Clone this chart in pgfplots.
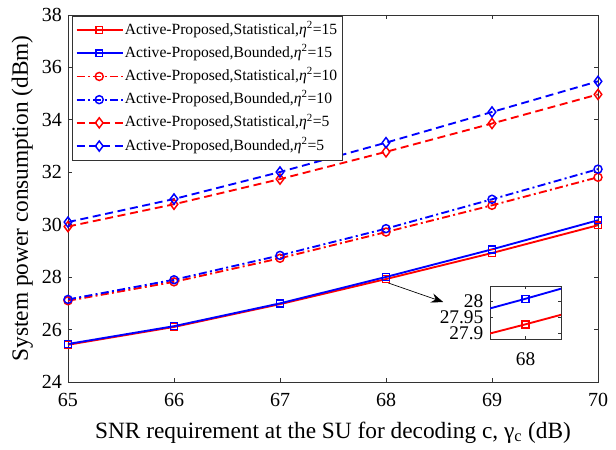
\documentclass[border=0pt]{standalone}
\usepackage{fontspec}
\setmainfont{Liberation Serif}
\usepackage{pgfplots}
\pgfplotsset{compat=1.18}
\usetikzlibrary{arrows.meta}
\definecolor{axgray}{gray}{0.2}
\begin{document}
\begin{tikzpicture}
\pgfplotsset{
  myaxis/.style={
    scale only axis, tick align=inside,
    axis line style={axgray, line width=0.6pt},
    every tick/.style={axgray, line width=0.6pt},
    major tick length=3pt,
    /pgf/number format/assume math mode=true,
  },
  s15/.style={red, line width=1.4pt, mark=square, mark size=2.6pt, mark options={solid, line width=1.1pt}},
  b15/.style={blue, line width=1.4pt, mark=square, mark size=2.6pt, mark options={solid, line width=1.1pt}},
  s10/.style={red, line width=1.4pt, dash pattern=on 6pt off 2.5pt on 1.5pt off 2.5pt, mark=o, mark size=3pt, mark options={solid, line width=1.1pt}},
  b10/.style={blue, line width=1.4pt, dash pattern=on 6pt off 2.5pt on 1.5pt off 2.5pt, mark=o, mark size=3pt, mark options={solid, line width=1.1pt}},
  s5/.style={red, line width=1.4pt, dash pattern=on 6pt off 3.5pt, mark=diamond, mark size=3.8pt, mark options={solid, line width=1.1pt}},
  b5/.style={blue, line width=1.4pt, dash pattern=on 6pt off 3.5pt, mark=diamond, mark size=3.8pt, mark options={solid, line width=1.1pt}},
}
\begin{axis}[name=main, myaxis,
  at={(0,0)}, anchor=south west,
  width=397.5pt, height=275.25pt,
  xmin=65, xmax=70, ymin=24, ymax=38,
  xtick={65,66,67,68,69,70}, ytick={24,26,28,30,32,34,36,38},
  ticklabel style={font=\fontsize{15}{18}\selectfont},
  xticklabel style={yshift=-5pt},
  yticklabel style={xshift=-1pt},
  clip=false,
  xlabel={SNR requirement at the SU for decoding c, γ\textsubscript{c} (dB)},
  ylabel={System power consumption (dBm)},
  label style={font=\fontsize{17.5}{21}\selectfont},
  xlabel style={at={(axis description cs:0.5,0)}, anchor=base, yshift=-42pt},
  ylabel style={at={(axis description cs:0,0.5)}, anchor=base, yshift=30pt},
  legend style={at={(rel axis cs:0.0075,0.998)}, anchor=north west,
    font=\fontsize{11.7}{13}\selectfont, draw=axgray, line width=0.5pt,
    fill=white, inner xsep=2.5pt, inner ysep=3.5pt, row sep=3.4pt,
    nodes={inner sep=1pt, text height=9pt, text depth=3pt}},
  legend cell align=left,
  legend image code/.code={\draw[mark repeat=2,mark phase=2] plot coordinates {(0pt,0pt) (17pt,0pt) (34.5pt,0pt)};},
]
\addplot[s15] coordinates {(65,25.42) (66,26.10) (67,26.97) (68,27.927) (69,28.92) (70,29.98)};
\addlegendentry{Active-Proposed,Statistical,{\itshape η}\textsuperscript{2}=15}
\addplot[b15] coordinates {(65,25.45) (66,26.13) (67,27.00) (68,28.007) (69,29.06) (70,30.17)};
\addlegendentry{Active-Proposed,Bounded,{\itshape η}\textsuperscript{2}=15}
\addplot[s10] coordinates {(65,27.10) (66,27.82) (67,28.72) (68,29.72) (69,30.74) (70,31.81)};
\addlegendentry{Active-Proposed,Statistical,{\itshape η}\textsuperscript{2}=10}
\addplot[b10] coordinates {(65,27.15) (66,27.90) (67,28.83) (68,29.85) (69,30.97) (70,32.12)};
\addlegendentry{Active-Proposed,Bounded,{\itshape η}\textsuperscript{2}=10}
\addplot[s5] coordinates {(65,29.93) (66,30.78) (67,31.74) (68,32.78) (69,33.86) (70,34.97)};
\addlegendentry{Active-Proposed,Statistical,{\itshape η}\textsuperscript{2}=5}
\addplot[b5] coordinates {(65,30.10) (66,30.98) (67,32.01) (68,33.13) (69,34.30) (70,35.47)};
\addlegendentry{Active-Proposed,Bounded,{\itshape η}\textsuperscript{2}=5}
\draw[black, line width=0.5pt, -{Stealth[length=9pt,width=7pt,inset=3pt]}] (axis cs:68.02,27.78) -- (axis cs:68.54,27.05);
\end{axis}
\begin{axis}[myaxis,
  at={(316.5pt,32.25pt)}, anchor=south west,
  width=53.25pt, height=39.75pt,
  xmin=67.97, xmax=68.03, ymin=27.881, ymax=28.047,
  xtick={68}, xticklabels={68},
  ytick={27.9,27.95,28}, yticklabels={27.9,27.95,28},
  ticklabel style={font=\fontsize{14.5}{16}\selectfont},
  yticklabel style={xshift=-1.5pt, inner ysep=0pt},
  xticklabel style={yshift=-6.5pt},
  major tick length=2pt,
  clip=true, clip mode=global,
  axis background/.style={fill=white},
]
\addplot[s15] coordinates {(67,26.97) (68,27.927) (69,28.92)};
\addplot[b15] coordinates {(67,27.00) (68,28.007) (69,29.06)};
\end{axis}
\pgfresetboundingbox
\path[use as bounding box] (-51pt,-50.25pt) rectangle (411pt,286.5pt);
\end{tikzpicture}
\end{document}
